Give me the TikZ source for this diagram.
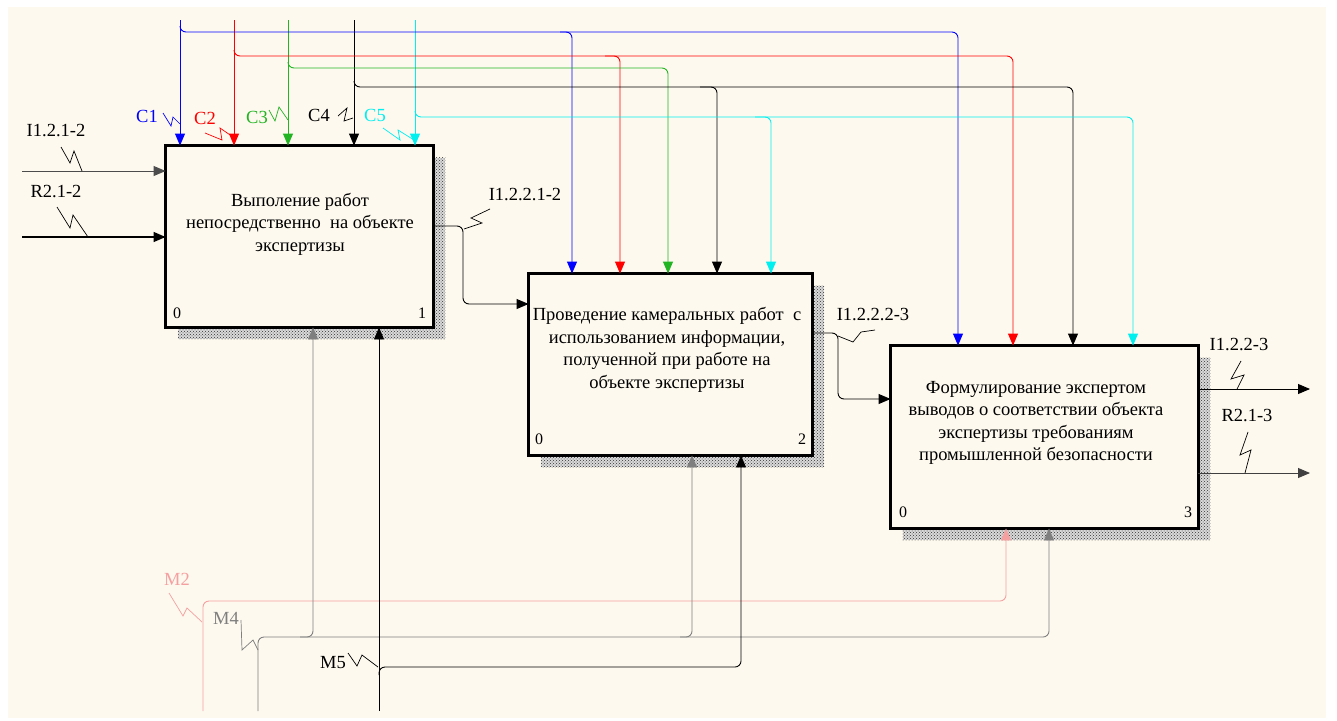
\documentclass[tikz,border=0pt]{standalone}
\usepackage{fontspec}
\setmainfont{Liberation Serif}
\usetikzlibrary{arrows.meta, calc, patterns}
\definecolor{cbg}{HTML}{FDF9EE}
\definecolor{cblue}{HTML}{0000FF}
\definecolor{cred}{HTML}{FF0000}
\definecolor{cgreen}{HTML}{22B422}
\definecolor{ccyan}{HTML}{00F0F0}
\definecolor{cpink}{HTML}{F5A0A0}
\definecolor{cgrey}{HTML}{7F7F7F}
\tikzset{
  every picture/.style={x=1pt, y=-1pt, line width=0.9pt},
  box/.style={draw=black, fill=cbg, line width=2.4pt, inner sep=0pt},
  shadow/.style={preaction={fill=black!15}, pattern=crosshatch dots, pattern color=black!80},
  arrow/.style={-{Triangle[length=12pt, width=10pt]}, draw=#1},
  arrow/.default=black,
  branch/.style={arrow=#1, rounded corners=6pt},
  squig/.style={draw=#1, line width=0.7pt},
  lbl/.style={font=\fontsize{18.5}{21}\selectfont, inner sep=1pt},
  boxtext/.style={font=\fontsize{18.5}{22.5}\selectfont, align=center},
  num/.style={font=\fontsize{16}{18}\selectfont, inner sep=0pt},
}

\begin{document}
\begin{tikzpicture}
  \useasboundingbox (0,0) rectangle (1337,720);
  \fill[cbg] (8,7) rectangle (1326,718);
  % boxes
  \node[minimum width=267pt, minimum height=181pt] (box1) at (299.5,236.5) {};
  \node[minimum width=283pt, minimum height=181pt] (box2) at (670.5,364.5) {};
  \node[minimum width=307pt, minimum height=182pt] (box3) at (1044.5,437) {};
  \foreach \b in {box1, box2, box3}
    \fill[shadow] ($(\b.north west)+(12,12)$) rectangle ($(\b.south east)+(12,12)$);
  \foreach \b in {box1, box2, box3}
    \draw[box] (\b.north west) rectangle (\b.south east);
  \node[boxtext] (t1) at (300,224) {Выполение работ\\непосредственно~ на объекте\\экспертизы};
  \node[boxtext] (t2) at (667,350) {Проведение камеральных работ~ с\\использованием информации,\\полученной при работе на\\объекте экспертизы};
  \node[boxtext] (t3) at (1036,423) {Формулирование экспертом\\выводов о соответствии объекта\\экспертизы требованиям\\промышленной безопасности};
  \node[num] (n1a) at (177,313) {0};
  \node[num] (n1b) at (422,313) {1};
  \node[num] (n2a) at (539,439) {0};
  \node[num] (n2b) at (802,439) {2};
  \node[num] (n3a) at (903,512) {0};
  \node[num] (n3b) at (1188,512) {3};

  % controls
  \coordinate (c1) at (180,20);
  \coordinate (c2) at (234,20);
  \coordinate (c3) at (288,20);
  \coordinate (c4) at (354,20);
  \coordinate (c5) at (415,20);
  \foreach \c/\col in {c1/cblue, c2/cred, c3/cgreen, c4/black, c5/ccyan}
    \draw[arrow=\col] (\c) -- (\c |- box1.north);
  \draw[branch=cblue] (180,26) |- (958,32) -- (958,0 |- box3.north);
  \draw[branch=cblue] (560,32) -| (572,0 |- box2.north);
  \draw[branch=cred] (234,50) |- (1013,56) -- (1013,0 |- box3.north);
  \draw[branch=cred] (605,56) -| (620,0 |- box2.north);
  \draw[branch=cgreen] (288,62) |- (668,68) -- (668,0 |- box2.north);
  \draw[branch=black] (354,81) |- (1073,87) -- (1073,0 |- box3.north);
  \draw[branch=black] (700,87) -| (717,0 |- box2.north);
  \draw[branch=ccyan] (415,111) |- (1133,117) -- (1133,0 |- box3.north);
  \draw[branch=ccyan] (755,117) -| (771,0 |- box2.north);
  \node[lbl, text=cblue] (lc1) at (147,116) {C1};
  \node[lbl, text=cred] (lc2) at (205,118) {C2};
  \node[lbl, text=cgreen] (lc3) at (257,117) {C3};
  \node[lbl] (lc4) at (319,115) {C4};
  \node[lbl, text=ccyan] (lc5) at (375,115) {C5};
  \draw[squig=cblue] (163,113) -- (171,126) -- (173,117) -- (180,124);
  \draw[squig=cred] (205,133) -- (222,140) -- (220,128) -- (233,137);
  \draw[squig=cgreen] (269,110) -- (275,121) -- (279,107) -- (288,120);
  \draw[squig=black] (338,116) -- (347,108) -- (344,121) -- (353,118);
  \draw[squig=ccyan] (383,128) -- (400,140) -- (398,130) -- (414,140);

  % inputs and outputs
  \coordinate (i1) at (22,171);
  \coordinate (r1) at (22,237);
  \draw[arrow=black!70] (i1) -- (box1.west |- i1);
  \draw[arrow, line width=1.4pt] (r1) -- (box1.west |- r1);
  \node[lbl] (li1) at (56,131) {I1.2.1-2};
  \node[lbl] (lr1) at (56,192) {R2.1-2};
  \draw[squig=black] (61,147) -- (70,163) -- (74,151) -- (82,171);
  \draw[squig=black] (57,207) -- (70,228) -- (73,215) -- (88,237);
  \draw[branch=black] (box1.east |- 0,226) -| (463,304) -- (box2.west |- 0,304);
  \node[lbl] (li12) at (525,195) {I1.2.2.1-2};
  \draw[squig=black] (464,229) -- (482,223) -- (471,218) -- (490,209);
  \draw[branch=black] (box2.east |- 0,333) -| (838,399) -- (box3.west |- 0,399);
  \node[lbl] (li23) at (873,315) {I1.2.2.2-3};
  \draw[squig=black] (838,336) -- (853,342) -- (861,332) -- (875,330);
  \coordinate (o1) at (1310,389);
  \coordinate (o2) at (1310,473);
  \draw[arrow] (box3.east |- o1) -- (o1);
  \draw[arrow=black!75] (box3.east |- o2) -- (o2);
  \node[lbl] (lo1) at (1239,345) {I1.2.2-3};
  \node[lbl] (lo2) at (1247,415) {R2.1-3};
  \draw[squig=black] (1241,361) -- (1231,379) -- (1244,375) -- (1237,389);
  \draw[squig=black] (1248,432) -- (1240,455) -- (1251,450) -- (1245,473);

  % mechanisms
  \coordinate (m2) at (203,711);
  \coordinate (m4) at (258,711);
  \coordinate (m5) at (379,711);
  \draw[branch=cpink] (m2) |- (1006,601) -- (1006,0 |- box3.south);
  \draw[branch=cgrey] (m4) |- (1049,637) -- (1049,0 |- box3.south);
  \draw[branch=cgrey] (300,637) -| (313,0 |- box1.south);
  \draw[branch=cgrey] (680,637) -| (692,0 |- box2.south);
  \draw[arrow] (m5) -- (m5 |- box1.south);
  \draw[branch=black] (379,675) |- (741,667) -- (741,0 |- box2.south);
  \node[lbl, text=cpink] (lm2) at (177,579) {M2};
  \node[lbl, text=cgrey] (lm4) at (226,618) {M4};
  \node[lbl] (lm5) at (333,663) {M5};
  \draw[squig=cpink] (169,593) -- (183,616) -- (187,608) -- (202,622);
  \draw[squig=cgrey] (241,620) -- (242,650) -- (253,640) -- (258,650);
  \draw[squig=black] (348,653) -- (357,666) -- (362,655) -- (378,667);
\end{tikzpicture}
\end{document}
